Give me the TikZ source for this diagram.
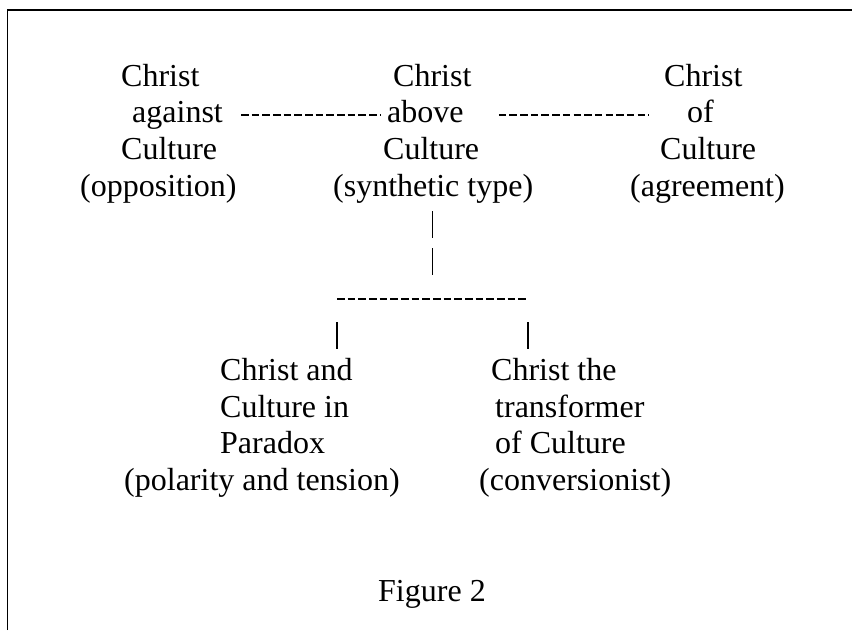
\documentclass[tikz,border=0pt]{standalone}
\usepackage{fontspec}
\setmainfont{Liberation Serif}
\usetikzlibrary{calc}
\begin{document}
\begin{tikzpicture}[x=1pt,y=-1pt,
  txt/.style={anchor=base west, inner sep=0pt, font=\fontsize{32}{36.8}\selectfont},
  hyph/.style={line width=1.8pt, dash pattern=on 7.6pt off 3.07pt},
  bar/.style={line width=1.6pt},
  frame/.style={line width=1.6pt}]
\useasboundingbox (0,0) rectangle (852,630);
% open frame: left and top rules only
\draw[frame] (7.5,630) -- (7.5,10) -- (852,10);

% upper row of types
\node[txt] (c1a) at (121,86)    {Christ};
\node[txt] (c1b) at (132,122.8) {against};
\node[txt] (c1c) at (121,159.6) {Culture};
\node[txt] (c1d) at (80,196.4)  {(opposition)};

\node[txt] (c2a) at (393,86)    {Christ};
\node[txt] (c2b) at (387,122.8) {above};
\node[txt] (c2c) at (383,159.6) {Culture};
\node[txt] (c2d) at (333,196.4) {(synthetic type)};

\node[txt] (c3a) at (664,86)    {Christ};
\node[txt] (c3b) at (687,122.8) {of};
\node[txt] (c3c) at (660,159.6) {Culture};
\node[txt] (c3d) at (630,196.4) {(agreement)};

% lower row of types
\node[txt] (c4a) at (220,380.2) {Christ and};
\node[txt] (c4b) at (220,417)   {Culture in};
\node[txt] (c4c) at (220,453.8) {Paradox};
\node[txt] (c4d) at (124,490.6) {(polarity and tension)};

\node[txt] (c5a) at (491,380.2) {Christ the};
\node[txt] (c5b) at (495,417)   {transformer};
\node[txt] (c5c) at (495,453.8) {of Culture};
\node[txt] (c5d) at (479,490.6) {(conversionist)};

\node[txt] (fig) at (378,601) {Figure 2};

% hyphen links between the upper types
\draw[hyph] ($(c1b.base east)+(18,-8)$) -- ($(c2b.base west)+(-7,-8)$);
\draw[hyph] ($(c2b.base east)+(35,-8)$) -- ($(c3b.base west)+(-38,-8)$);

% stem down from the synthetic type to the split
\coordinate (split) at (432.5,299);
\draw[bar, dash pattern=on 27pt off 10pt] ($(c2d.base)+(-0.5,14.6)$) -- ++(0,64);
\draw[hyph] ($(split)+(-95.5,0)$) -- ($(split)+(95.5,0)$);
\draw[bar] ($(split)+(-95.5,23)$) -- ++(0,27);
\draw[bar] ($(split)+(95.5,23)$) -- ++(0,27);
\end{tikzpicture}
\end{document}
